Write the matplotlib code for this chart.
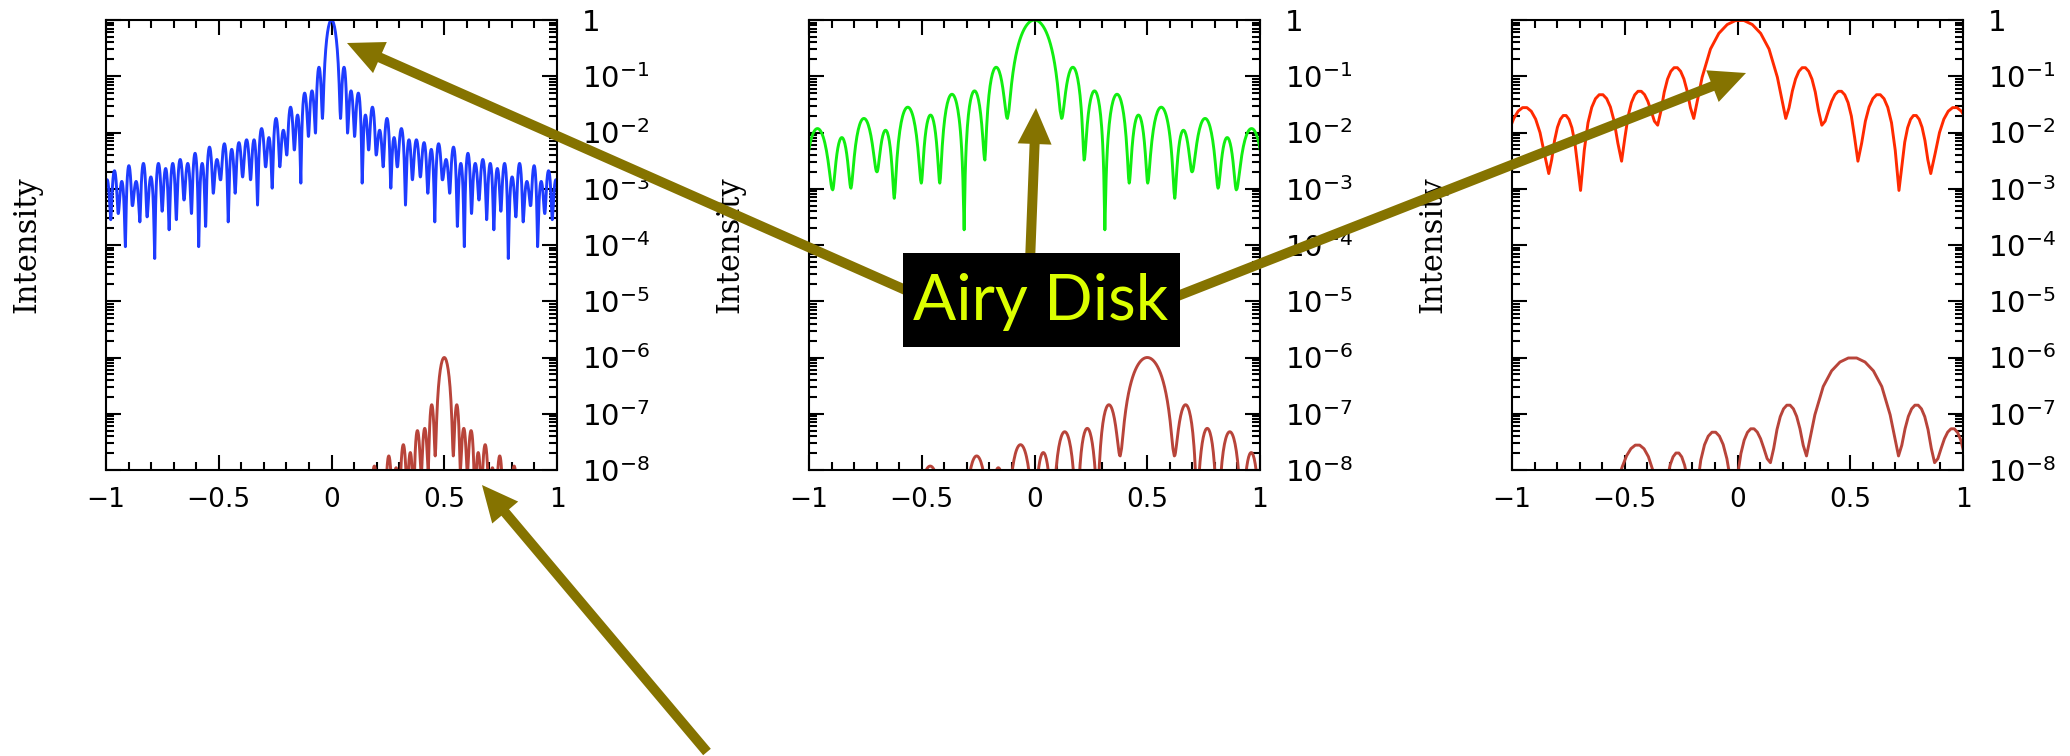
import numpy as np
import matplotlib
matplotlib.use("Agg")
import matplotlib.pyplot as plt
from matplotlib.patches import FancyArrow, Rectangle
from matplotlib.ticker import MultipleLocator, LogLocator, FuncFormatter

# lobe structure (right half of each pattern, mirrored for the left half)
# null_x: position of each null, null_log: log10 intensity at the null,
# peak_log: log10 peak of the lobe sitting between two consecutive nulls
blue_null_x = [0.040, 0.071, 0.102, 0.136, 0.165, 0.198, 0.229, 0.263, 0.292, 0.328,
               0.359, 0.394, 0.427, 0.458, 0.492, 0.524, 0.558, 0.589, 0.621, 0.654,
               0.688, 0.720, 0.751, 0.784, 0.818, 0.850, 0.883, 0.914, 0.946, 0.979, 1.011]
blue_null_log = [-1.75, -2.01, -2.07, -2.90, -2.31, -2.40, -2.61, -2.99, -2.61, -3.29,
                 -2.84, -2.79, -3.08, -3.59, -2.84, -3.08, -3.67, -4.03, -3.44, -3.20,
                 -3.55, -3.73, -3.40, -4.24, -3.50, -3.59, -3.30, -4.03, -3.44, -3.55, -3.30]
blue_peak_log = [-0.84, -1.26, -1.30, -1.69, -1.55, -1.96, -1.75, -2.09, -1.93, -2.13,
                 -2.13, -2.18, -2.30, -2.20, -2.48, -2.26, -2.55, -2.37, -2.55, -2.48,
                 -2.55, -2.64, -2.55, -2.79, -2.55, -2.87, -2.59, -2.87, -2.68, -2.84]

green_null_x = [0.12, 0.22, 0.312, 0.42, 0.502, 0.622, 0.699, 0.814, 0.895, 1.03]
green_null_log = [-1.75, -2.49, -3.73, -2.90, -2.90, -3.17, -2.70, -2.99, -3.02, -3.60]
green_peak_log = [-0.84, -1.26, -1.32, -1.69, -1.55, -1.96, -1.75, -2.09, -1.93]

red_null_x = [0.204, 0.364, 0.524, 0.706, 0.847, 1.06]
red_null_log = [-1.75, -1.87, -2.51, -3.03, -2.73, -2.30]
red_peak_log = [-0.84, -1.26, -1.32, -1.69, -1.55]
red_center = 0.01

# faint companion: same pattern, 1e-6 as bright, at x = 0.5
companion_offset = 0.5
companion_log = -6.0

panels = [
    (blue_null_x, blue_null_log, blue_peak_log, 0.0, '#1e3cff', 40),
    (green_null_x, green_null_log, green_peak_log, 0.0, '#11ee11', 40),
    (red_null_x, red_null_log, red_peak_log, red_center, '#ff2a00', 12),
]
companion_color = '#b8443a'
arrow_color = '#857300'


def pattern(null_x, null_log, peak_log, center=0.0, n=40):
    nx = np.array(null_x)
    edges = np.concatenate([-nx[::-1], nx]) + center
    depth = 10.0 ** np.concatenate([np.array(null_log)[::-1], null_log])
    peaks = 10.0 ** np.concatenate([np.array(peak_log)[::-1], [0.0], peak_log])
    t = np.linspace(0, 1, n)
    xs, ys = [], []
    for i, p in enumerate(peaks):
        base = depth[i] * (1 - t) + depth[i + 1] * t
        xs.append(edges[i] + (edges[i + 1] - edges[i]) * t)
        ys.append(base + (p - base) * np.sin(np.pi * t) ** 2)
    return np.concatenate(xs), np.concatenate(ys)


def ylab(v, pos):
    k = int(round(np.log10(v)))
    return '1' if k == 0 else r'$10^{%d}$' % k


def xlab(v, pos):
    return ('%g' % v).replace('-', '\u2212')


plt.rcParams['mathtext.fontset'] = 'dejavusans'
fig = plt.figure(figsize=(20.7, 7.56), dpi=100)

W, H = 2070, 756
lefts = [106, 809, 1512]
for left, (nx, nl, pl, c0, col, npts) in zip(lefts, panels):
    ax = fig.add_axes([left / W, 1 - 470 / H, 451 / W, 450 / H])
    x, y = pattern(nx, nl, pl, c0, npts)
    ax.plot(x, y, color=col, lw=2.1)
    ax.plot(x + companion_offset, y * 10 ** companion_log, color=companion_color, lw=2.1)
    ax.set_yscale('log')
    ax.set_xlim(-1, 1)
    ax.set_ylim(1e-8, 1)
    ax.xaxis.set_major_locator(MultipleLocator(0.5))
    ax.xaxis.set_minor_locator(MultipleLocator(0.1))
    ax.yaxis.set_major_locator(LogLocator(base=10, numticks=20))
    ax.yaxis.set_minor_locator(LogLocator(base=10, subs=np.arange(2, 10), numticks=20))
    ax.yaxis.set_major_formatter(FuncFormatter(ylab))
    ax.xaxis.set_major_formatter(FuncFormatter(xlab))
    ax.tick_params(which='both', direction='in', top=True, right=True,
                   labelleft=False, labelright=True, width=1.5)
    ax.tick_params(which='major', length=11)
    ax.tick_params(which='minor', length=6)
    ax.tick_params(axis='x', pad=12, labelsize=19)
    ax.tick_params(axis='y', pad=18, labelsize=21)
    for s in ax.spines.values():
        s.set_linewidth(1.5)
    fig.text((left - 79) / W, 1 - 245 / H, 'Intensity', rotation=90,
             ha='center', va='center', fontsize=22, family='DejaVu Serif')

# annotation layer in pixel units
ov = fig.add_axes([0, 0, 1, 1], zorder=10)
ov.set_xlim(0, W)
ov.set_ylim(H, 0)
ov.axis('off')
ov.patch.set_alpha(0)

arrows = [((910, 292), (347, 43)),
          ((1030, 262), (1036, 108)),
          ((1175, 297), (1746, 73)),
          ((707, 752), (482, 485))]
for (x0, y0), (x1, y1) in arrows:
    ov.add_patch(FancyArrow(x0, y0, x1 - x0, y1 - y0, width=10, head_width=34,
                            head_length=36, length_includes_head=True,
                            color=arrow_color, lw=0))

ov.add_patch(Rectangle((903, 253), 277, 94, color='black', lw=0))
ov.text(1041, 302, 'Airy Disk', ha='center', va='center', fontsize=46,
        family='Lato', color='#dcff00')

fig.savefig('out.png', dpi=100)
